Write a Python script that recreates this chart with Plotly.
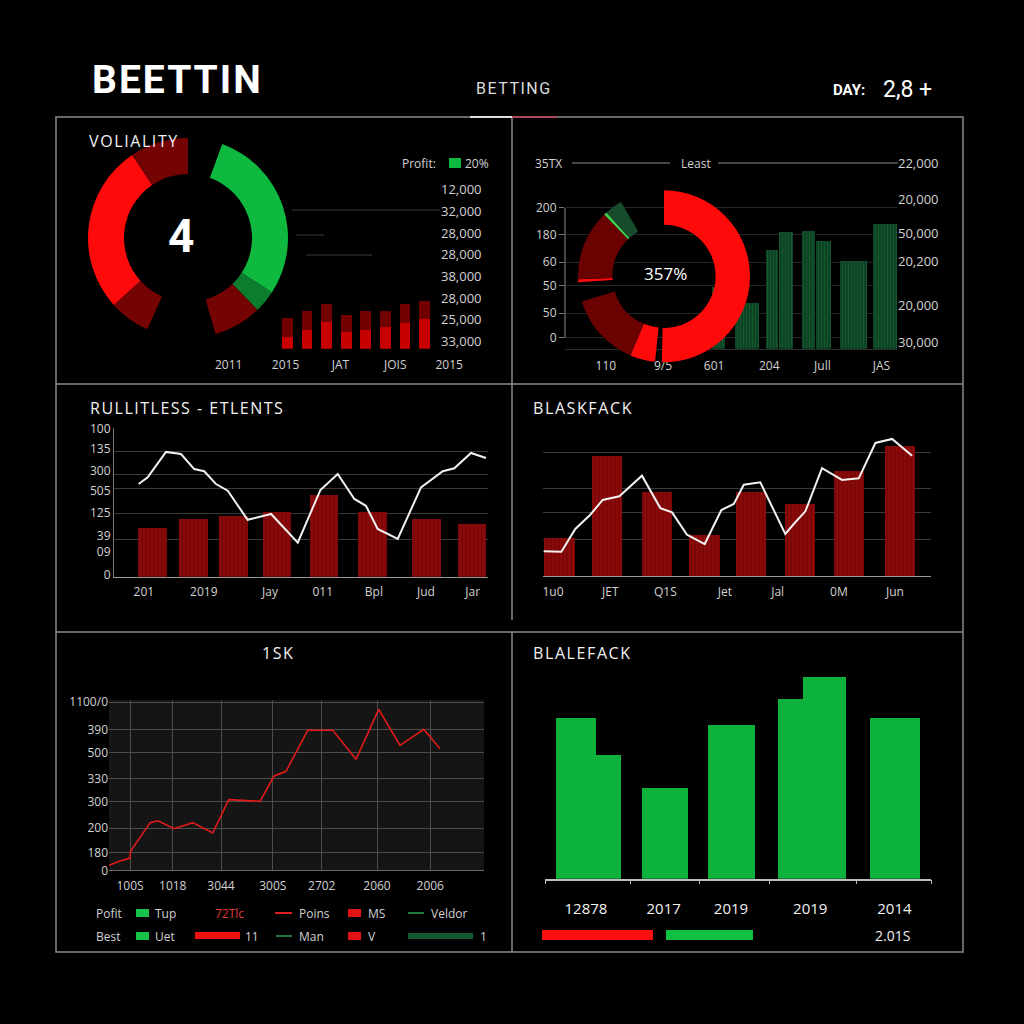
import plotly.graph_objects as go

W = H = 1024


def X(px):
    return px / W


def Y(py):
    return 1 - py / H


# ---------------- data ----------------
# Panel 1 (VOLIALITY): ring slices clockwise from 12 o'clock
p1_ring_labels = ["gap", "Profit", "Push", "Loss A", "gap 2", "Loss B", "Loss", "Loss C"]
p1_ring_values = [20, 103, 13, 28, 40, 24, 98, 34]
p1_bar_x = [0, 1, 2, 3, 4, 5, 6, 7]
p1_bar_low = [12, 19, 27, 17, 19, 22, 26, 30]
p1_bar_high = [19, 19, 18, 17, 19, 16, 19, 18]
p1_xlabels = ["2011", "2015", "JAT", "JOIS", "2015"]
p1_xlabel_at = [-3.0, -0.1, 2.7, 5.5, 8.25]
p1_right_labels = ["33,000", "25,000", "28,000", "38,000", "28,000", "28,000", "32,000", "12,000"]  # bottom -> top
p1_right_at = [0, 1, 2, 3, 4, 5, 6, 7]

# Panel 2 (Least): ring slices clockwise from 12 o'clock
p2_ring_labels = ["Red", "gap", "Red 2", "Dark A", "gap 2", "Red 3", "Dark B", "Green line", "Dark green", "gap 3"]
p2_ring_values = [181.5, 4.5, 17, 50, 13, 2, 48, 2, 12, 30]
p2_bar_x = [6.01, 7.14, 8.10, 8.64, 9.54, 10.13, 11.30, 12.53]
p2_bar_w = [0.51, 0.94, 0.47, 0.55, 0.52, 0.60, 1.05, 0.94]
p2_bar_h = [20.0, 14.8, 31.9, 37.7, 38.0, 34.8, 28.3, 40.3]
p2_xlabels = ["110", "9/5", "601", "204", "Jull", "JAS"]
p2_xlabel_at = [1.6, 3.84, 5.84, 8.0, 10.08, 12.39]
p2_left_labels = ["0", "50", "50", "60", "180", "200"]
p2_left_at = [3.5, 11.5, 20.3, 28.0, 36.8, 45.5]
p2_right_labels = ["30,000", "20,000", "20,200", "50,000", "20,000", "22,000"]
p2_right_at = [2.1, 13.9, 28.2, 37.4, 48.1, 60.0]

# Panel 3 (RULLITLESS - ETLENTS)
p3_bar_x = [2.24, 4.65, 7.03, 9.59, 12.35, 15.18, 18.38, 21.06]
p3_bar_h = [32.8, 38.8, 40.8, 43.7, 55.1, 43.3, 38.6, 35.4]
p3_line_x = [1.45, 1.98, 3.06, 3.94, 4.72, 5.31, 6.0, 6.69, 7.86, 9.24, 10.81,
             12.14, 13.16, 14.14, 14.82, 15.51, 16.69, 18.06, 19.34, 20.02, 21.0, 21.88]
p3_line_y = [62.3, 66.8, 83.9, 82.5, 72.4, 70.9, 62.3, 57.8, 38.3, 42.2, 22.9,
             58.3, 69.1, 52.3, 47.7, 32.1, 25.4, 60.1, 70.9, 72.9, 83.2, 79.8]
p3_xlabels = ["201", "2019", "Jay", "011", "Bpl", "Jud", "Jar"]
p3_xlabel_at = [1.76, 5.28, 9.18, 12.28, 15.29, 18.35, 21.1]
p3_ylabels = ["100", "135", "300", "505", "125", "39", "09", "0"]
p3_ylabel_at = [99.8, 85.9, 71.1, 57.8, 42.8, 27.6, 16.6, 1.1]
p3_grid_at = [100, 83.9, 68.4, 59.6, 42.2, 24.7]

# Panel 4 (BLASKFACK)
p4_bar_x = [0.97, 3.76, 6.71, 9.5, 12.24, 15.12, 18.0, 21.0]
p4_bar_h = [25.9, 80.8, 56.8, 27.9, 56.8, 48.9, 70.7, 87.6]
p4_line_x = [0.04, 1.08, 1.90, 2.78, 3.51, 4.49, 5.82, 6.90, 7.59, 8.47, 9.51, 10.49, 11.22,
             11.81, 12.78, 13.76, 14.25, 14.84, 15.43, 16.41, 17.59, 18.57, 19.55, 20.53, 21.71]
p4_line_y = [16.9, 16.6, 32.0, 41.6, 51.6, 54.1, 68.0, 46.1, 43.2, 28.1, 21.8, 44.8, 48.9,
             61.9, 63.5, 40.3, 28.6, 36.5, 43.9, 73.0, 65.1, 66.2, 90.1, 92.8, 81.5]
p4_xlabels = ["1u0", "JET", "Q1S", "Jet", "Jal", "0M", "Jun"]
p4_xlabel_at = [0.59, 3.96, 7.2, 10.7, 13.8, 17.4, 20.7]
p4_grid_at = [100, 83.8, 59.5, 42.8, 24.7]

# Panel 5 (1SK)
p5_line_x = [0.01, 0.41, 0.84, 0.86, 1.65, 1.95, 2.61, 3.35, 4.15, 4.79, 6.04, 6.61,
             7.08, 7.95, 8.95, 9.88, 10.79, 11.64, 12.59, 13.24]
p5_line_y = [29, 53, 72, 112, 280, 291, 244, 280, 219, 415, 405, 554,
             581, 822, 822, 652, 945, 734, 828, 714]
p5_xlabels = ["100S", "1018", "3044", "300S", "2702", "2060", "2006"]
p5_xlabel_at = [0.84, 2.55, 4.48, 6.55, 8.51, 10.72, 12.85]
p5_ylabels = ["1100/0", "390", "500", "330", "300", "200", "180", "0"]
p5_ylabel_at = [988, 826, 689, 538, 405, 248, 102, 0]

# Panel 6 (BLALEFACK)
p6_bar_x = [1.82, 3.74, 7.06, 10.97, 14.44, 16.44, 20.59]
p6_bar_w = [2.35, 1.47, 2.70, 2.76, 1.47, 2.53, 2.94]
p6_bar_h = [73.6, 56.7, 41.6, 70.4, 82.0, 92.1, 73.6]
p6_xlabels = ["12878", "2017", "2019", "2019", "2014"]
p6_xlabel_at = [2.41, 6.98, 10.94, 15.6, 20.55]
p6_tick_at = [0, 5, 9.06, 13.18, 18.29, 22.7]

# ---------------- styles ----------------
BG = "#000000"
CLEAR = "rgba(0,0,0,0)"
TXT = "#d2d2d2"
WHITE = "#f2f2f2"
RED = "#ff0a0a"
DRED = "#740303"
BAR_RED = "#7d0606"
GREEN = "#0fb83f"
DGREEN = "#0b7d2c"
TICKFONT = dict(family="Open Sans", size=12, color=TXT)

fig = go.Figure()

# ---------- Panel 1 ----------
fig.add_trace(go.Pie(
    labels=p1_ring_labels, values=p1_ring_values, sort=False, direction="clockwise",
    rotation=0, hole=0.64, textinfo="none", hoverinfo="skip",
    marker=dict(colors=[CLEAR, GREEN, DGREEN, DRED, CLEAR, DRED, RED, DRED],
                line=dict(width=0)),
    domain=dict(x=[X(88), X(288)], y=[Y(338), Y(138)]), showlegend=False))

fig.add_trace(go.Bar(x=p1_bar_x, y=p1_bar_low, width=0.56, marker=dict(color="#c60000", line=dict(width=0)),
                     xaxis="x", yaxis="y", hoverinfo="skip"))
fig.add_trace(go.Bar(x=p1_bar_x, y=p1_bar_high, width=0.56, marker=dict(color="#730000", line=dict(width=0)),
                     xaxis="x", yaxis="y", hoverinfo="skip"))
fig.add_trace(go.Scatter(x=[0], y=[0], mode="markers", marker=dict(opacity=0), xaxis="x2", yaxis="y2",
                         hoverinfo="skip"))

# ---------- Panel 2 ----------
fig.add_trace(go.Bar(x=p2_bar_x, y=p2_bar_h, width=p2_bar_w,
                     marker=dict(color="#0d4424", line=dict(width=0),
                                 pattern=dict(shape="|", fillmode="overlay", bgcolor="#0d4424",
                                              fgcolor="#1e6a3b", size=3, solidity=0.3)),
                     xaxis="x3", yaxis="y3", hoverinfo="skip"))
fig.add_trace(go.Scatter(x=[0], y=[0], mode="markers", marker=dict(opacity=0), xaxis="x3", yaxis="y4",
                         hoverinfo="skip"))
fig.add_trace(go.Pie(
    labels=p2_ring_labels, values=p2_ring_values, sort=False, direction="clockwise",
    rotation=0, hole=0.6, textinfo="none", hoverinfo="skip",
    marker=dict(colors=[RED, CLEAR, RED, "#6a0202", CLEAR, RED, "#6a0202",
                        "#3fd14f", "#184a2c", CLEAR],
                line=dict(width=0)),
    domain=dict(x=[X(578), X(750)], y=[Y(362.3), Y(190.3)]), showlegend=False))

# ---------- Panel 3 ----------
red_pattern = dict(shape="|", fillmode="overlay", bgcolor=BAR_RED, fgcolor="#a51414", size=4, solidity=0.3)
fig.add_trace(go.Bar(x=p3_bar_x, y=p3_bar_h, width=1.7,
                     marker=dict(color=BAR_RED, line=dict(width=0), pattern=red_pattern),
                     xaxis="x5", yaxis="y5", hoverinfo="skip"))
fig.add_trace(go.Scatter(x=p3_line_x, y=p3_line_y, mode="lines", line=dict(color=WHITE, width=2),
                         xaxis="x5", yaxis="y5", hoverinfo="skip"))

# ---------- Panel 4 ----------
fig.add_trace(go.Bar(x=p4_bar_x, y=p4_bar_h, width=1.8,
                     marker=dict(color=BAR_RED, line=dict(width=0), pattern=red_pattern),
                     xaxis="x6", yaxis="y6", hoverinfo="skip"))
fig.add_trace(go.Scatter(x=p4_line_x, y=p4_line_y, mode="lines", line=dict(color=WHITE, width=2),
                         xaxis="x6", yaxis="y6", hoverinfo="skip"))

# ---------- Panel 5 ----------
fig.add_trace(go.Scatter(x=p5_line_x, y=p5_line_y, mode="lines", line=dict(color="#e21a1a", width=1.6),
                         xaxis="x7", yaxis="y7", hoverinfo="skip"))

# ---------- Panel 6 ----------
fig.add_trace(go.Bar(x=p6_bar_x, y=p6_bar_h, width=p6_bar_w,
                     marker=dict(color="#0cb23c", line=dict(width=0)),
                     xaxis="x8", yaxis="y8", hoverinfo="skip"))

# ---------------- axes ----------------
base = dict(showgrid=False, zeroline=False, showline=False, ticks="", fixedrange=True,
            automargin=False, tickfont=TICKFONT)

layout_axes = dict(
    # Panel 1 bars
    xaxis=dict(base, domain=[X(209.1), X(463.9)], range=[-4, 9], anchor="y",
               tickmode="array", tickvals=p1_xlabel_at, ticktext=p1_xlabels, ticklabelstandoff=7),
    yaxis=dict(base, domain=[Y(348.7), Y(288.7)], range=[0, 60], anchor="x", showticklabels=False),
    # Panel 1 right labels
    xaxis2=dict(base, domain=[X(300), X(440)], range=[0, 1], anchor="y2", visible=False),
    yaxis2=dict(base, domain=[Y(352), Y(179)], range=[-0.5, 7.5], anchor="free", position=X(440),
                side="right", tickmode="array", tickvals=p1_right_at, ticktext=p1_right_labels,
                tickfont=dict(family="Open Sans", size=13, color=TXT)),
    # Panel 2
    xaxis3=dict(base, domain=[X(565), X(897)], range=[0, 13], anchor="y3", showline=True,
                linecolor="#2e2e2e", linewidth=1,
                tickmode="array", tickvals=p2_xlabel_at, ticktext=p2_xlabels, ticklabelstandoff=6),
    yaxis3=dict(base, domain=[Y(348.7), Y(163)], range=[0, 60], anchor="x3", side="right",
                tickmode="array", tickvals=p2_right_at, ticktext=p2_right_labels,
                tickfont=dict(family="Open Sans", size=13, color=TXT)),
    yaxis4=dict(base, range=[0, 60], anchor="x3", overlaying="y3", side="left",
                tickmode="array", tickvals=p2_left_at, ticktext=p2_left_labels,
                showgrid=True, gridcolor="#262626", gridwidth=1,
                ticks="outside", ticklen=5, tickcolor="#777"),
    # Panel 3
    xaxis5=dict(base, domain=[X(114), X(488)], range=[0, 22], anchor="y5", showline=True,
                linecolor="#9a9a9a", linewidth=1,
                tickmode="array", tickvals=p3_xlabel_at, ticktext=p3_xlabels, ticklabelstandoff=4),
    yaxis5=dict(base, domain=[Y(576.7), Y(428)], range=[0, 100], anchor="x5", showline=True,
                linecolor="#777", linewidth=1,
                tickmode="array", tickvals=p3_ylabel_at, ticktext=p3_ylabels,
                minor=dict(tickmode="array", tickvals=p3_grid_at, showgrid=True,
                           gridcolor="#3a3a3a", gridwidth=1, ticks="")),
    # Panel 4
    xaxis6=dict(base, domain=[X(543), X(931)], range=[0, 22.82], anchor="y6", showline=True,
                linecolor="#9a9a9a", linewidth=1,
                tickmode="array", tickvals=p4_xlabel_at, ticktext=p4_xlabels, ticklabelstandoff=4),
    yaxis6=dict(base, domain=[Y(576.3), Y(428.3)], range=[0, 100], anchor="x6", showticklabels=False,
                minor=dict(tickmode="array", tickvals=p4_grid_at, showgrid=True,
                           gridcolor="#3a3a3a", gridwidth=1, ticks="")),
    # Panel 5
    xaxis7=dict(base, domain=[X(109), X(484)], range=[0, 15], anchor="y7", showline=True,
                linecolor="#6a6a6a", showgrid=True, gridcolor="#4d4d4d", gridwidth=1,
                tickmode="array", tickvals=p5_xlabel_at, ticktext=p5_xlabels, ticklabelstandoff=4),
    yaxis7=dict(base, domain=[Y(870.3), Y(700)], range=[0, 1000], anchor="x7",
                showgrid=True, gridcolor="#4d4d4d", gridwidth=1,
                tickmode="array", tickvals=p5_ylabel_at, ticktext=p5_ylabels),
    # Panel 6
    xaxis8=dict(base, domain=[X(545), X(931)], range=[0, 22.7], anchor="y8", showline=True,
                linecolor="#bdbdbd", linewidth=1.5,
                tickmode="array", tickvals=p6_xlabel_at, ticktext=p6_xlabels, ticklabelstandoff=16,
                tickfont=dict(family="Open Sans", size=15, color=WHITE),
                minor=dict(tickmode="array", tickvals=p6_tick_at, ticks="outside", ticklen=4,
                           tickcolor="#bdbdbd", showgrid=False)),
    yaxis8=dict(base, domain=[Y(878.7), Y(660)], range=[0, 100], anchor="x8", showticklabels=False),
)

# ---------------- shapes ----------------
def line(x0, y0, x1, y1, color="#8a8a8a", width=1.5):
    return dict(type="line", xref="paper", yref="paper", x0=X(x0), y0=Y(y0), x1=X(x1), y1=Y(y1),
                line=dict(color=color, width=width))


def rect(x0, y0, x1, y1, color, layer="above"):
    return dict(type="rect", xref="paper", yref="paper", x0=X(x0), y0=Y(y0), x1=X(x1), y1=Y(y1),
                fillcolor=color, line=dict(width=0), layer=layer)


shapes = [
    # panel frames
    dict(type="rect", xref="paper", yref="paper", x0=X(56), y0=Y(952), x1=X(963), y1=Y(117),
         line=dict(color="#8a8a8a", width=1.5)),
    line(56, 384, 963, 384),
    line(56, 632, 963, 632),
    line(512, 117, 512, 620),
    line(512, 632, 512, 952),
    line(470, 117, 512, 117, color="#e0e0e0", width=2),
    line(512, 117, 557, 117, color="#b04a5a", width=2),
    # panel 1 faint lines
    line(292, 210, 440, 210, color="#3a3a3a", width=1),
    line(296, 235, 324, 235, color="#3a3a3a", width=1),
    line(306, 255, 372, 255, color="#3a3a3a", width=1),
    rect(449, 158, 461, 168, GREEN),
    # panel 2 header lines and axis line
    line(572, 163, 670, 163, color="#8a8a8a", width=1),
    line(718, 163, 898, 163, color="#8a8a8a", width=1),
    line(565, 208, 565, 338, color="#8a8a8a", width=1),
    # panel 5 plot background
    rect(109, 700, 484, 870.3, "#151515", layer="below"),
    # panel 5 legend
    rect(136, 909, 149, 917, "#19c24a"),
    line(275, 913, 292, 913, color="#e02020", width=2),
    rect(348, 909, 361, 917, "#e01414"),
    line(408, 913, 424, 913, color="#1f7a3a", width=2),
    rect(136, 932, 149, 940, "#19c24a"),
    rect(195, 932, 240, 939, "#ee1111"),
    line(276, 936, 292, 936, color="#1f7a3a", width=2),
    rect(348, 932, 361, 940, "#e01414"),
    rect(408, 933, 473, 939, "#145a30"),
    # panel 6 bottom bars
    rect(542, 930, 653, 940, "#ff1010"),
    rect(666, 930, 753, 940, "#10c040"),
]

# ---------------- annotations ----------------
def txt(text, x, y, size=12, color=TXT, anchor="left", family="Open Sans", weight="normal", spacing=None):
    if spacing is not None:
        text = '<span style="letter-spacing:%.1fpx">%s</span>' % (spacing, text)
    return dict(text=text, x=X(x), y=Y(y), xref="paper", yref="paper", showarrow=False,
                xanchor=anchor, yanchor="middle",
                font=dict(family=family, size=size, color=color, weight=weight))


annotations = [
    txt("BEETTIN", 90, 80, size=39, color="#ffffff", family="Roboto", weight="bold", spacing=2),
    txt("BETTING", 514, 88, size=16, color="#dcdcdc", anchor="center", family="Roboto", spacing=1.5),
    txt("DAY:", 831, 90, size=15, color="#ffffff", family="Roboto", weight="bold"),
    txt("2,8 +", 881, 89, size=23, color="#ffffff", family="Roboto"),
    # panel 1
    txt("VOLIALITY", 87, 141, size=16, color=WHITE, spacing=1.6),
    txt("4", 181, 236, size=46, color="#ffffff", anchor="center", family="Roboto", weight="bold"),
    txt("Profit:", 438, 163, size=12, anchor="right"),
    txt("20%", 463, 163, size=12),
    # panel 2
    txt("35TX", 548, 163, size=12, anchor="center"),
    txt("Least", 696, 163, size=12, anchor="center"),
    txt("357%", 665, 273, size=17, color="#ffffff", anchor="center"),
    # panel 3 / 4
    txt("RULLITLESS - ETLENTS", 88, 408, size=16, color=WHITE, spacing=1.5),
    txt("BLASKFACK", 531, 408, size=16, color=WHITE, spacing=1.6),
    # panel 5
    txt("1SK", 278, 653, size=16, color=WHITE, anchor="center", spacing=1.5),
    txt("Pofit", 109, 913, anchor="center"),
    txt("Tup", 153, 913),
    txt("72Tlc", 213, 913, color="#e03a3a"),
    txt("Poins", 297, 913),
    txt("MS", 366, 913),
    txt("Veldor", 429, 913),
    txt("Best", 108, 936, anchor="center"),
    txt("Uet", 153, 936),
    txt("11", 243, 936),
    txt("Man", 297, 936),
    txt("V", 366, 936),
    txt("1", 478, 936),
    # panel 6
    txt("BLALEFACK", 531, 653, size=16, color=WHITE, spacing=1.6),
    txt("2.01S", 892, 935, size=14, color=WHITE, anchor="center"),
]

fig.update_layout(
    width=W, height=H, margin=dict(l=0, r=0, t=0, b=0, pad=0, autoexpand=False),
    paper_bgcolor=BG, plot_bgcolor=CLEAR, showlegend=False, barmode="stack", bargap=0,
    shapes=shapes, annotations=annotations, **layout_axes,
)

fig.write_html("out.html")
